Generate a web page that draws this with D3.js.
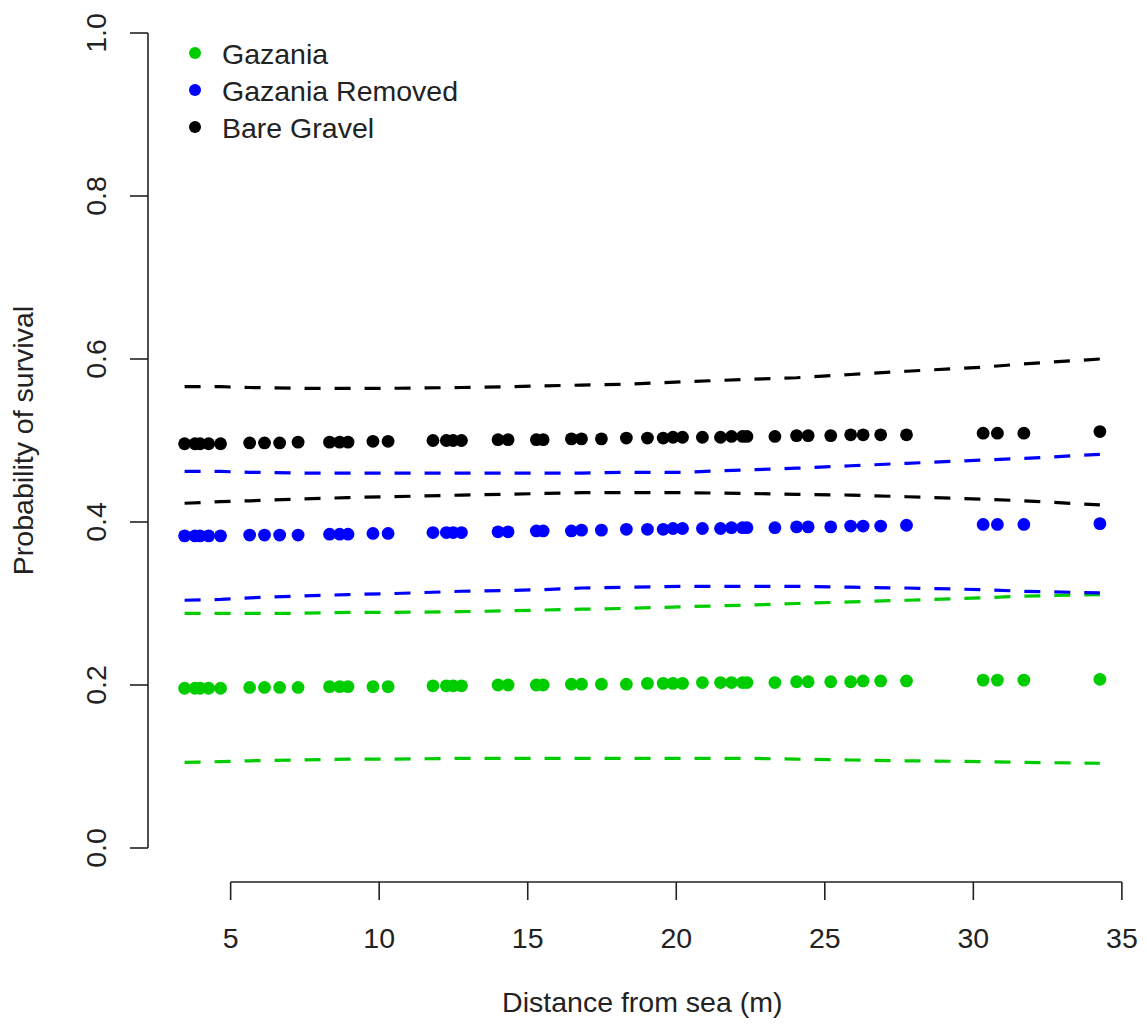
<!DOCTYPE html>
<html>
<head>
<meta charset="utf-8">
<script src="https://cdn.jsdelivr.net/npm/d3@7"></script>
<style>
  html, body { margin: 0; padding: 0; background: #fff; }
  svg { display: block; font-family: "Liberation Sans", Arial, sans-serif; }
</style>
</head>
<body>
<svg id="chart" width="1147" height="1026"></svg>
<script>
// Distance from sea (m) of each surveyed plant
const distance = [
  3.45, 3.80, 3.97, 4.26, 4.66,
  5.64, 6.14, 6.65, 7.27,
  8.33, 8.67, 8.95,
  9.79, 10.30,
  11.81, 12.26, 12.49, 12.77,
  14.00, 14.34,
  15.29, 15.52,
  16.47, 16.81, 17.48, 18.32, 19.03, 19.56, 19.89, 20.21,
  20.88, 21.49, 21.86, 22.23, 22.38,
  23.32, 24.05, 24.44, 25.20, 25.87, 26.29, 26.88, 27.75,
  30.33, 30.81, 31.70, 34.26
];

// Fitted probability of survival per treatment
const gazania = [
  0.196, 0.196, 0.196, 0.196, 0.196,
  0.197, 0.197, 0.197, 0.197,
  0.198, 0.198, 0.198,
  0.198, 0.198,
  0.199, 0.199, 0.199, 0.199,
  0.200, 0.200,
  0.200, 0.200,
  0.201, 0.201, 0.201, 0.201, 0.202, 0.202, 0.202, 0.202,
  0.203, 0.203, 0.203, 0.203, 0.203,
  0.203, 0.204, 0.204, 0.204, 0.204, 0.205, 0.205, 0.205,
  0.206, 0.206, 0.206, 0.207
];
const gazaniaRemoved = [
  0.383, 0.383, 0.383, 0.383, 0.383,
  0.384, 0.384, 0.384, 0.384,
  0.385, 0.385, 0.385,
  0.386, 0.386,
  0.387, 0.387, 0.387, 0.387,
  0.388, 0.388,
  0.389, 0.389,
  0.389, 0.390, 0.390, 0.391, 0.391, 0.391, 0.392, 0.392,
  0.392, 0.392, 0.393, 0.393, 0.393,
  0.393, 0.394, 0.394, 0.394, 0.395, 0.395, 0.395, 0.396,
  0.397, 0.397, 0.397, 0.398
];
const bareGravel = [
  0.496, 0.496, 0.496, 0.496, 0.496,
  0.497, 0.497, 0.497, 0.498,
  0.498, 0.498, 0.498,
  0.499, 0.499,
  0.500, 0.500, 0.500, 0.500,
  0.501, 0.501,
  0.501, 0.501,
  0.502, 0.502, 0.502, 0.503, 0.503, 0.503, 0.504, 0.504,
  0.504, 0.504, 0.505, 0.505, 0.505,
  0.505, 0.506, 0.506, 0.506, 0.507, 0.507, 0.507, 0.507,
  0.509, 0.509, 0.509, 0.511
];

// Confidence limits, sampled along distance
const bandDistance = [3.45, 4.66, 5.64, 7.27, 8.95, 10.30, 12.77, 14.34, 15.52, 16.81,
                      18.32, 20.21, 22.38, 24.05, 25.87, 27.75, 30.33, 31.70, 34.26];
const gazaniaUpper = [0.288, 0.288, 0.288, 0.288, 0.289, 0.289, 0.290, 0.291, 0.292, 0.293,
                      0.294, 0.296, 0.298, 0.300, 0.302, 0.304, 0.307, 0.309, 0.311];
const gazaniaLower = [0.105, 0.106, 0.107, 0.108, 0.109, 0.109, 0.110, 0.110, 0.110, 0.110,
                      0.110, 0.110, 0.110, 0.109, 0.108, 0.107, 0.106, 0.105, 0.104];
const removedUpper = [0.462, 0.462, 0.461, 0.460, 0.460, 0.460, 0.460, 0.460, 0.460, 0.460,
                      0.461, 0.461, 0.464, 0.466, 0.469, 0.472, 0.476, 0.478, 0.483];
const removedLower = [0.304, 0.305, 0.307, 0.309, 0.311, 0.312, 0.315, 0.316, 0.317, 0.319,
                      0.320, 0.321, 0.321, 0.321, 0.320, 0.319, 0.317, 0.315, 0.313];
const gravelUpper  = [0.566, 0.566, 0.565, 0.564, 0.564, 0.564, 0.565, 0.566, 0.567, 0.568,
                      0.569, 0.572, 0.575, 0.577, 0.581, 0.585, 0.590, 0.594, 0.600];
const gravelLower  = [0.423, 0.425, 0.426, 0.428, 0.430, 0.431, 0.433, 0.434, 0.435, 0.436,
                      0.436, 0.436, 0.435, 0.434, 0.433, 0.431, 0.428, 0.426, 0.421];

const seriesNames  = ["Gazania", "Gazania Removed", "Bare Gravel"];
const seriesColors = ["#00CD00", "#0000FF", "#000000"];
const xTicks = [5, 10, 15, 20, 25, 30, 35];
const yTicks = [0.0, 0.2, 0.4, 0.6, 0.8, 1.0];

const svg = d3.select("#chart");
const fontSize = 28.5;

// Plot region with 4% padding on both axes
const xScale = d3.scaleLinear().domain([2.218, 35.492]).range([148, 1136.5]);
const yScale = d3.scaleLinear().domain([-0.04, 1.04]).range([880.6, 0.4]);

svg.append("rect").attr("width", 1147).attr("height", 1026).attr("fill", "#fff");

// Confidence limit lines (dashed)
const bands = [
  [gazaniaUpper, seriesColors[0]], [gazaniaLower, seriesColors[0]],
  [removedUpper, seriesColors[1]], [removedLower, seriesColors[1]],
  [gravelUpper, seriesColors[2]], [gravelLower, seriesColors[2]]
];
const line = d3.line().x(d => xScale(d[0])).y(d => yScale(d[1]));
bands.forEach(([vals, col]) => {
  svg.append("path")
    .attr("d", line(bandDistance.map((d, i) => [d, vals[i]])))
    .attr("fill", "none")
    .attr("stroke", col)
    .attr("stroke-width", 3.2)
    .attr("stroke-dasharray", "16,14");
});

// Fitted survival points
[gazania, gazaniaRemoved, bareGravel].forEach((vals, k) => {
  svg.append("g").selectAll("circle")
    .data(distance.map((d, i) => [d, vals[i]]))
    .join("circle")
    .attr("cx", d => xScale(d[0]))
    .attr("cy", d => yScale(d[1]))
    .attr("r", 6.4)
    .attr("fill", seriesColors[k]);
});

// Axes
const axisColor = "#222";
const yAxis = svg.append("g");
yAxis.append("line")
  .attr("x1", 148).attr("x2", 148)
  .attr("y1", yScale(0)).attr("y2", yScale(1))
  .attr("stroke", axisColor).attr("stroke-width", 1.6);
yTicks.forEach(t => {
  yAxis.append("line")
    .attr("x1", 130).attr("x2", 148)
    .attr("y1", yScale(t)).attr("y2", yScale(t))
    .attr("stroke", axisColor).attr("stroke-width", 1.6);
  yAxis.append("text")
    .attr("transform", `translate(106,${yScale(t)}) rotate(-90)`)
    .attr("text-anchor", "middle")
    .attr("font-size", fontSize)
    .attr("fill", axisColor)
    .text(t.toFixed(1));
});

const xAxis = svg.append("g");
xAxis.append("line")
  .attr("x1", xScale(5)).attr("x2", xScale(35))
  .attr("y1", 882).attr("y2", 882)
  .attr("stroke", axisColor).attr("stroke-width", 1.6);
xTicks.forEach(t => {
  xAxis.append("line")
    .attr("x1", xScale(t)).attr("x2", xScale(t))
    .attr("y1", 882).attr("y2", 900)
    .attr("stroke", axisColor).attr("stroke-width", 1.6);
  xAxis.append("text")
    .attr("x", xScale(t)).attr("y", 947.5)
    .attr("text-anchor", "middle")
    .attr("font-size", fontSize)
    .attr("fill", axisColor)
    .text(t);
});

// Axis titles
svg.append("text")
  .attr("x", (148 + 1136.5) / 2).attr("y", 1012)
  .attr("text-anchor", "middle")
  .attr("font-size", fontSize)
  .attr("fill", axisColor)
  .text("Distance from sea (m)");
svg.append("text")
  .attr("transform", `translate(33,${(0.4 + 880.6) / 2}) rotate(-90)`)
  .attr("text-anchor", "middle")
  .attr("font-size", fontSize)
  .attr("fill", axisColor)
  .text("Probability of survival");

// Legend
const legend = svg.append("g");
seriesNames.forEach((name, i) => {
  const cy = 53 + i * 37;
  legend.append("circle")
    .attr("cx", 195).attr("cy", cy).attr("r", 6)
    .attr("fill", seriesColors[i]);
  legend.append("text")
    .attr("x", 222).attr("y", cy + 10.5)
    .attr("font-size", fontSize)
    .attr("fill", axisColor)
    .text(name);
});
</script>
</body>
</html>
